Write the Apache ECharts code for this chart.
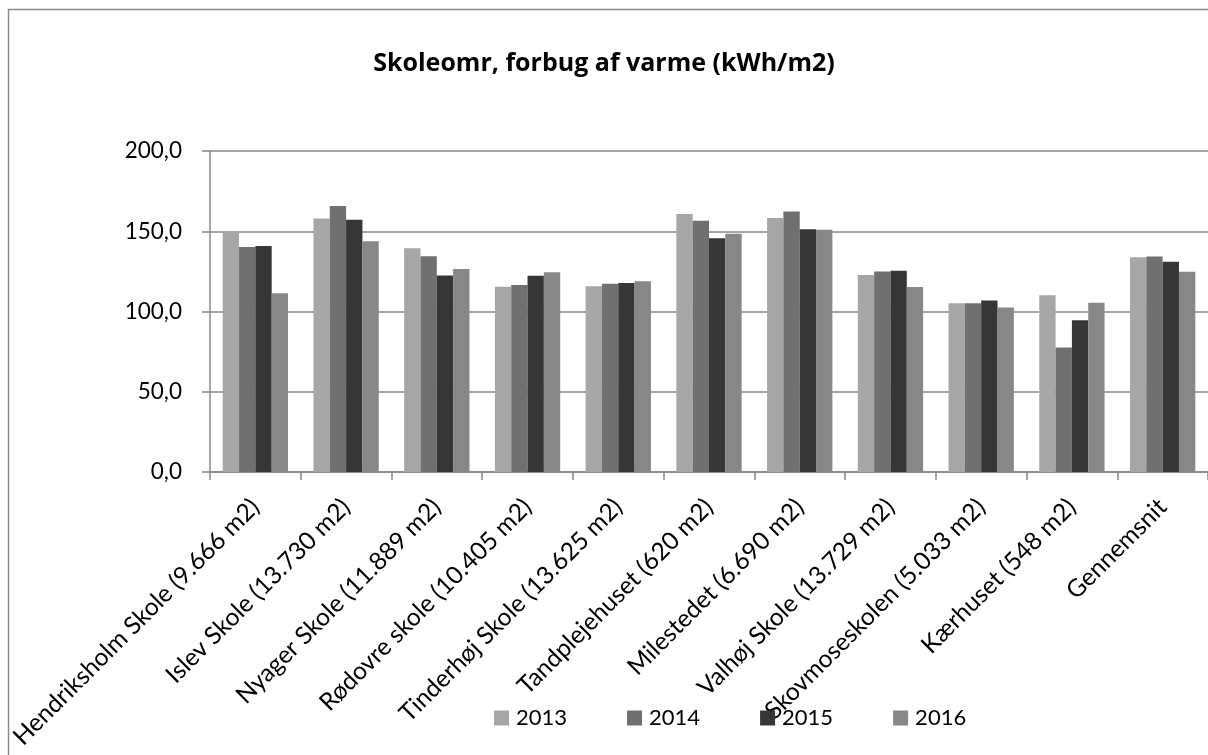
<!DOCTYPE html>
<html>
<head>
<meta charset="utf-8">
<title>Skoleomr, forbug af varme</title>
<script src="https://cdn.jsdelivr.net/npm/echarts@6/dist/echarts.min.js"></script>
<style>
  html, body { margin: 0; padding: 0; background: #fff; }
  #chart_box { width: 1208px; height: 755px; }
</style>
</head>
<body>
<div id="chart_box"></div>
<script>
// kategorier (skoler)
var categories = [
  "Hendriksholm Skole (9.666 m2)",
  "Islev Skole (13.730 m2)",
  "Nyager Skole (11.889 m2)",
  "Rødovre skole (10.405 m2)",
  "Tinderhøj Skole (13.625 m2)",
  "Tandplejehuset (620 m2)",
  "Milestedet (6.690 m2)",
  "Valhøj Skole (13.729 m2)",
  "Skovmoseskolen (5.033 m2)",
  "Kærhuset (548 m2)",
  "Gennemsnit"
];

var years = ["2013", "2014", "2015", "2016"];

// forbrug kWh/m2 pr. år
var data2013 = [150.0, 157.9, 139.4, 115.4, 115.8, 160.8, 158.3, 122.7, 105.2, 110.2, 133.8];
var data2014 = [140.2, 165.8, 134.4, 116.5, 117.3, 156.5, 162.3, 125.0, 105.2, 77.5, 134.2];
var data2015 = [140.8, 157.1, 122.5, 122.3, 117.7, 145.6, 151.2, 125.4, 106.9, 94.6, 131.0];
var data2016 = [111.3, 143.8, 126.5, 124.4, 118.8, 148.5, 151.0, 115.2, 102.5, 105.4, 124.8];

var yTicks = [0, 50, 100, 150, 200];

var colors = ["#a6a6a6", "#707070", "#363636", "#878787"];
var fontName = "Lato, 'Noto Sans', sans-serif";

var mychart = echarts.init(document.getElementById("chart_box"));

var seriesData = [data2013, data2014, data2015, data2016];
var series = years.map(function (y, i) {
  return {
    name: y,
    type: "bar",
    barGap: "0%",
    barCategoryGap: "28%",
    itemStyle: { color: colors[i] },
    data: seriesData[i]
  };
});

var option = {
  animation: false,
  backgroundColor: "#fff",
  color: colors,
  textStyle: { fontFamily: fontName },
  title: {
    text: "Skoleomr, forbug af varme (kWh/m2)",
    left: "center",
    top: 46,
    textStyle: { fontFamily: "'Open Sans', sans-serif", fontSize: 25, fontWeight: "bold", color: "#000" }
  },
  // ramme om diagrammet
  graphic: [{
    type: "rect",
    shape: { x: 8.5, y: 9.5, width: 1400, height: 900 },
    style: { fill: null, stroke: "#8a8a8a", lineWidth: 1.5 },
    silent: true
  }],
  legend: {
    data: years,
    left: 494,
    top: 707,
    padding: 0,
    itemWidth: 15,
    itemHeight: 15,
    itemGap: 60,
    icon: "rect",
    textStyle: { fontFamily: fontName, fontSize: 22, color: "#000", padding: [0, 0, 0, 2] }
  },
  grid: {
    left: 210,
    top: 151,
    width: 1004,
    bottom: 283,
    containLabel: false
  },
  xAxis: {
    type: "category",
    data: categories,
    axisLine: { lineStyle: { color: "#868686", width: 1.5 } },
    axisTick: { show: true, length: 8, interval: 0, lineStyle: { color: "#868686", width: 1.5 } },
    axisLabel: {
      interval: 0,
      rotate: 45,
      margin: 31,
      color: "#000",
      fontFamily: fontName,
      fontSize: 24.5
    }
  },
  yAxis: {
    type: "value",
    min: yTicks[0],
    max: yTicks[yTicks.length - 1],
    interval: 50,
    axisLine: { show: true, lineStyle: { color: "#868686", width: 1.5 } },
    axisTick: { show: true, length: 8, lineStyle: { color: "#868686", width: 1.5 } },
    axisLabel: {
      margin: 28,
      color: "#000",
      fontFamily: fontName,
      fontSize: 22.5,
      formatter: function (v) { return v.toFixed(1).replace(".", ","); }
    },
    splitLine: { lineStyle: { color: "#868686", width: 1.5 } }
  },
  series: series
};

mychart.setOption(option);
</script>
</body>
</html>
